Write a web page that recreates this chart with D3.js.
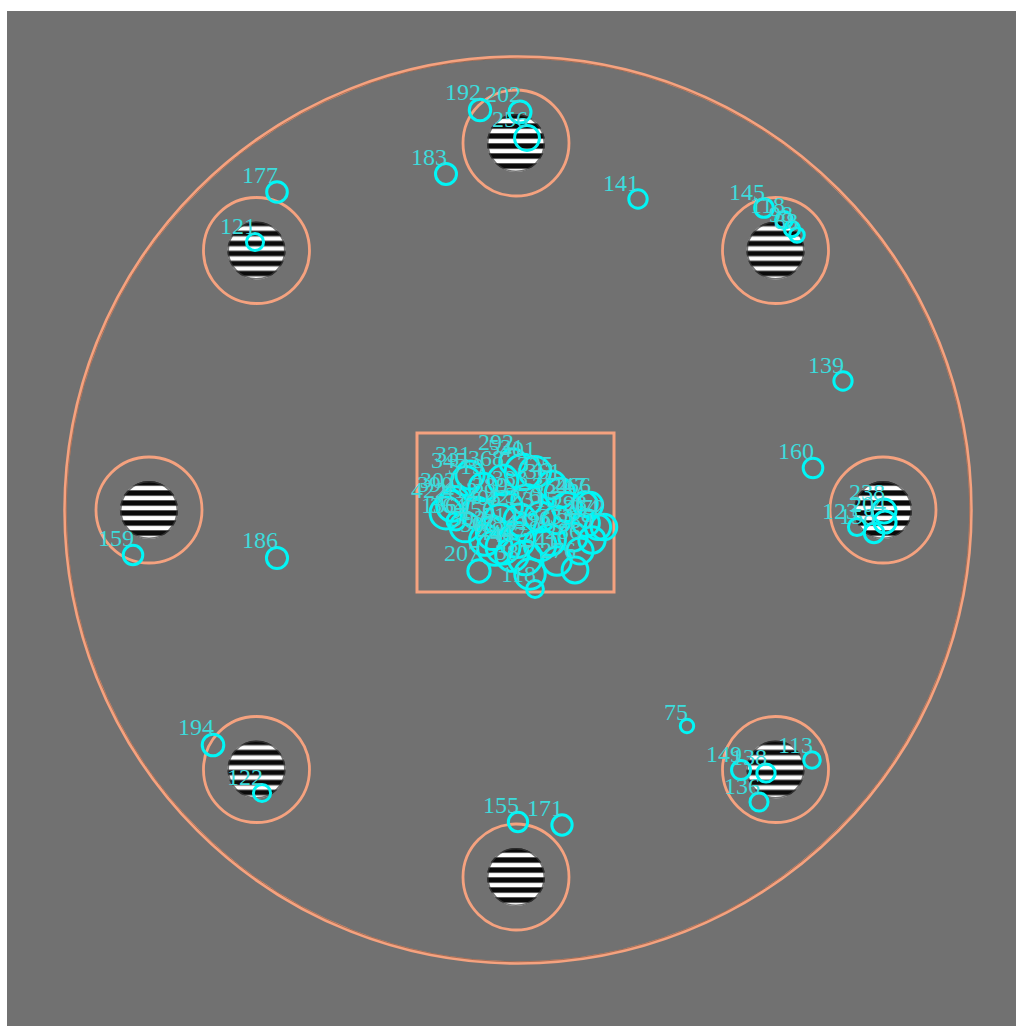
<!DOCTYPE html>
<html>
<head>
<meta charset="utf-8">
<script src="https://cdn.jsdelivr.net/npm/d3@7/dist/d3.min.js"></script>
<style>
  html, body { margin: 0; padding: 0; background: #ffffff; }
  svg { display: block; }
</style>
</head>
<body>
<svg id="chart" width="1016" height="1026"></svg>
<script>
// Screen layout of the trial, in display pixels
const screenBox = [7, 11, 1016, 1026];          // x0, y0, x1, y1
const arenaCenter = [518, 510];
const arenaRadius = 453;

// Peripheral grating stimuli: polar angle (deg, 0 = right, clockwise) and eccentricity
const stimAngles = [0, 45, 90, 135, 180, 225, 270, 315];
const stimEccentricity = 367;
const stimCenter = [516, 510];
const stimRadius = 29;
const stimWindowRadius = 53;

// Central fixation window
const fixWindow = [417, 433, 614, 592];        // x0, y0, x1, y1

// Fixations: position and duration (ms)
const fixX = [
  480, 520, 527, 446, 277, 255, 638, 764, 784, 792, 797, 843, 813,
  884, 857, 874, 885, 687, 741, 766, 759, 812, 213, 262, 133, 277, 518, 562,
  466, 523, 585, 452, 446, 456, 479,
  503, 535, 552, 477, 507, 540, 598, 586, 573, 493, 517, 530, 557, 580,
  503, 535, 465, 500, 520, 557, 550, 604, 567, 527, 483, 513, 560, 575,
  512, 495, 525, 540, 485, 470, 592, 455, 590
];
const fixY = [
  110, 112, 138, 174, 192, 242, 199, 208, 220, 229, 235, 381, 468,
  511, 527, 533, 522, 726, 770, 773, 802, 760, 745, 793, 555, 558, 822, 825,
  481, 472, 504, 506, 513, 521, 571,
  480, 472, 485, 513, 507, 517, 527, 523, 537, 533, 540, 574, 561, 551,
  547, 589, 527, 520, 520, 520, 540, 527, 507, 500, 487, 462, 493, 570,
  555, 548, 558, 545, 540, 475, 540, 500, 505
];
const fixDur = [
  192, 202, 256, 183, 177, 121, 141, 145, 118, 98, 88, 139, 160,
  238, 123, 158, 204, 75, 149, 138, 136, 113, 194, 122, 159, 186, 155, 171,
  345, 531, 247, 390, 422, 136, 207,
  368, 401, 325, 412, 389, 376, 264, 298, 333, 456, 512, 387, 341, 286,
  478, 118, 364, 405, 422, 315, 396, 272, 354, 383, 319, 292, 361, 276,
  444, 501, 467, 418, 392, 331, 289, 302, 266
];

const svg = d3.select("#chart");

// Identity-like scales from display pixels to page pixels
const x = d3.scaleLinear().domain([screenBox[0], screenBox[2]]).range([7, 1016]);
const y = d3.scaleLinear().domain([screenBox[1], screenBox[3]]).range([11, 1026]);
const r = d3.scaleSqrt().domain([0, 600]).range([0, 19]);

const orange = "#f5a27f";
const cyan = "#00f6f6";
const labelCyan = "#3cdcdc";

// Screen background
svg.append("rect")
  .attr("x", x(screenBox[0])).attr("y", y(screenBox[1]))
  .attr("width", x(screenBox[2]) - x(screenBox[0]))
  .attr("height", y(screenBox[3]) - y(screenBox[1]))
  .attr("fill", "#717171");

// Arena boundary (double line)
svg.append("circle")
  .attr("cx", x(arenaCenter[0])).attr("cy", y(arenaCenter[1]))
  .attr("r", arenaRadius)
  .attr("fill", "none").attr("stroke", orange).attr("stroke-width", 3.5);
svg.append("circle")
  .attr("cx", x(arenaCenter[0])).attr("cy", y(arenaCenter[1]))
  .attr("r", arenaRadius - 1.2)
  .attr("fill", "none").attr("stroke", "rgba(40,20,10,0.45)").attr("stroke-width", 0.8);

// Grating stimuli
const stims = stimAngles.map(a => {
  const t = a * Math.PI / 180;
  return [stimCenter[0] + stimEccentricity * Math.cos(t), stimCenter[1] + stimEccentricity * Math.sin(t)];
});

const defs = svg.append("defs");
const period = 10;

stims.forEach((c, i) => {
  const cx = x(c[0]), cy = y(c[1]);
  const pat = defs.append("pattern")
    .attr("id", "grating" + i)
    .attr("patternUnits", "userSpaceOnUse")
    .attr("x", 0).attr("y", cy - stimRadius)
    .attr("width", 1016).attr("height", period);
  // dark band then light band, with a soft grey transition row
  pat.append("rect").attr("width", 1016).attr("height", period).attr("fill", "#0b0b0b");
  pat.append("rect").attr("y", period * 0.45).attr("width", 1016).attr("height", period * 0.5).attr("fill", "#a8a8a8");
  pat.append("rect").attr("y", period * 0.52).attr("width", 1016).attr("height", period * 0.38).attr("fill", "#ffffff");
  svg.append("circle")
    .attr("cx", cx).attr("cy", cy).attr("r", stimRadius)
    .attr("fill", "url(#grating" + i + ")");
  svg.append("circle")
    .attr("cx", cx).attr("cy", cy).attr("r", stimRadius - 0.7)
    .attr("fill", "none").attr("stroke", "#3a3a3a").attr("stroke-width", 1.6).attr("opacity", 0.7);
  svg.append("circle")
    .attr("cx", cx).attr("cy", cy).attr("r", stimWindowRadius)
    .attr("fill", "none").attr("stroke", orange).attr("stroke-width", 2.8);
});

// Central fixation window
svg.append("rect")
  .attr("x", x(fixWindow[0])).attr("y", y(fixWindow[1]))
  .attr("width", x(fixWindow[2]) - x(fixWindow[0]))
  .attr("height", y(fixWindow[3]) - y(fixWindow[1]))
  .attr("fill", "none").attr("stroke", orange).attr("stroke-width", 3);

// Fixations
const fixations = fixX.map((fx, i) => ({ x: fixX[i], y: fixY[i], d: fixDur[i] }));

svg.append("g").selectAll("circle")
  .data(fixations).join("circle")
  .attr("cx", d => x(d.x)).attr("cy", d => y(d.y)).attr("r", d => r(d.d))
  .attr("fill", "none").attr("stroke", cyan).attr("stroke-width", 3);

svg.append("g").selectAll("text")
  .data(fixations).join("text")
  .attr("x", d => x(d.x) + 1)
  .attr("y", d => y(d.y) - r(d.d) + 1)
  .attr("text-anchor", "end")
  .attr("font-family", "'Liberation Serif', 'DejaVu Serif', serif")
  .attr("font-size", 24)
  .attr("fill", labelCyan)
  .text(d => d.d);
</script>
</body>
</html>
